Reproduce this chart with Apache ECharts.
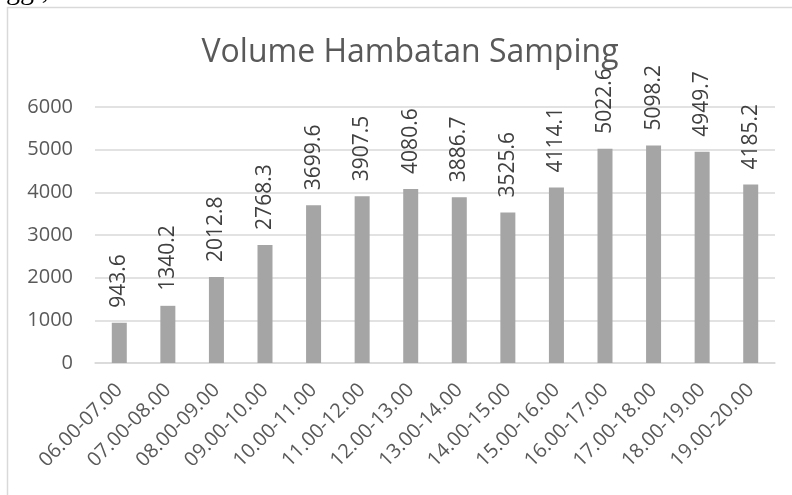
<!DOCTYPE html>
<html>
<head>
<meta charset="utf-8">
<script src="https://cdn.jsdelivr.net/npm/echarts@6/dist/echarts.min.js"></script>
<style>
html, body { margin: 0; padding: 0; background: #fff; }
#chart { width: 792px; height: 495px; }
</style>
</head>
<body>
<div id="chart"></div>
<script>
const categories = ['06.00-07.00', '07.00-08.00', '08.00-09.00', '09.00-10.00', '10.00-11.00',
  '11.00-12.00', '12.00-13.00', '13.00-14.00', '14.00-15.00', '15.00-16.00',
  '16.00-17.00', '17.00-18.00', '18.00-19.00', '19.00-20.00']
const volume = [943.6, 1340.2, 2012.8, 2768.3, 3699.6, 3907.5, 4080.6, 3886.7, 3525.6, 4114.1,
  5022.6, 5098.2, 4949.7, 4185.2]

const font = '"Open Sans", "Noto Sans", sans-serif'
const myChart = echarts.init(document.getElementById('chart'))

const option = {
  animation: false,
  backgroundColor: '#fff',
  title: {
    text: 'Volume Hambatan Samping',
    left: 405,
    textAlign: 'center',
    top: 32,
    textStyle: { color: '#595959', fontSize: 32, fontWeight: 'normal', fontFamily: font }
  },
  graphic: [
    {
      type: 'rect',
      shape: { x: 7.5, y: 7.5, width: 800, height: 500 },
      style: { fill: 'none', stroke: '#d9d9d9', lineWidth: 1.5 }
    },
    {
      type: 'text',
      x: 6,
      y: 6,
      style: { text: 'ggi,', fill: '#000', font: '28px "Liberation Serif", serif', verticalAlign: 'bottom' }
    }
  ],
  grid: { left: 95, right: 17, top: 107, bottom: 132 },
  xAxis: {
    type: 'category',
    data: categories,
    axisLine: { lineStyle: { color: '#d9d9d9', width: 1.5 } },
    axisTick: { show: false },
    axisLabel: {
      rotate: 45, margin: 24, interval: 0,
      color: '#595959', fontSize: 20, fontFamily: font
    }
  },
  yAxis: {
    type: 'value',
    min: 0,
    max: 6000,
    interval: 1000,
    axisLine: { show: false },
    axisTick: { show: false },
    splitLine: { lineStyle: { color: '#d9d9d9', width: 1.5 } },
    axisLabel: {
      color: '#595959', fontSize: 20, fontFamily: font, margin: 22,
      formatter: v => String(v)
    }
  },
  series: [{
    type: 'bar',
    data: volume,
    barWidth: 15,
    itemStyle: { color: '#a5a5a5' },
    label: {
      show: true,
      position: 'top',
      rotate: 90,
      align: 'left',
      verticalAlign: 'middle',
      distance: 15,
      color: '#404040',
      fontSize: 21,
      fontFamily: font
    }
  }]
}
myChart.setOption(option)
</script>
</body>
</html>
